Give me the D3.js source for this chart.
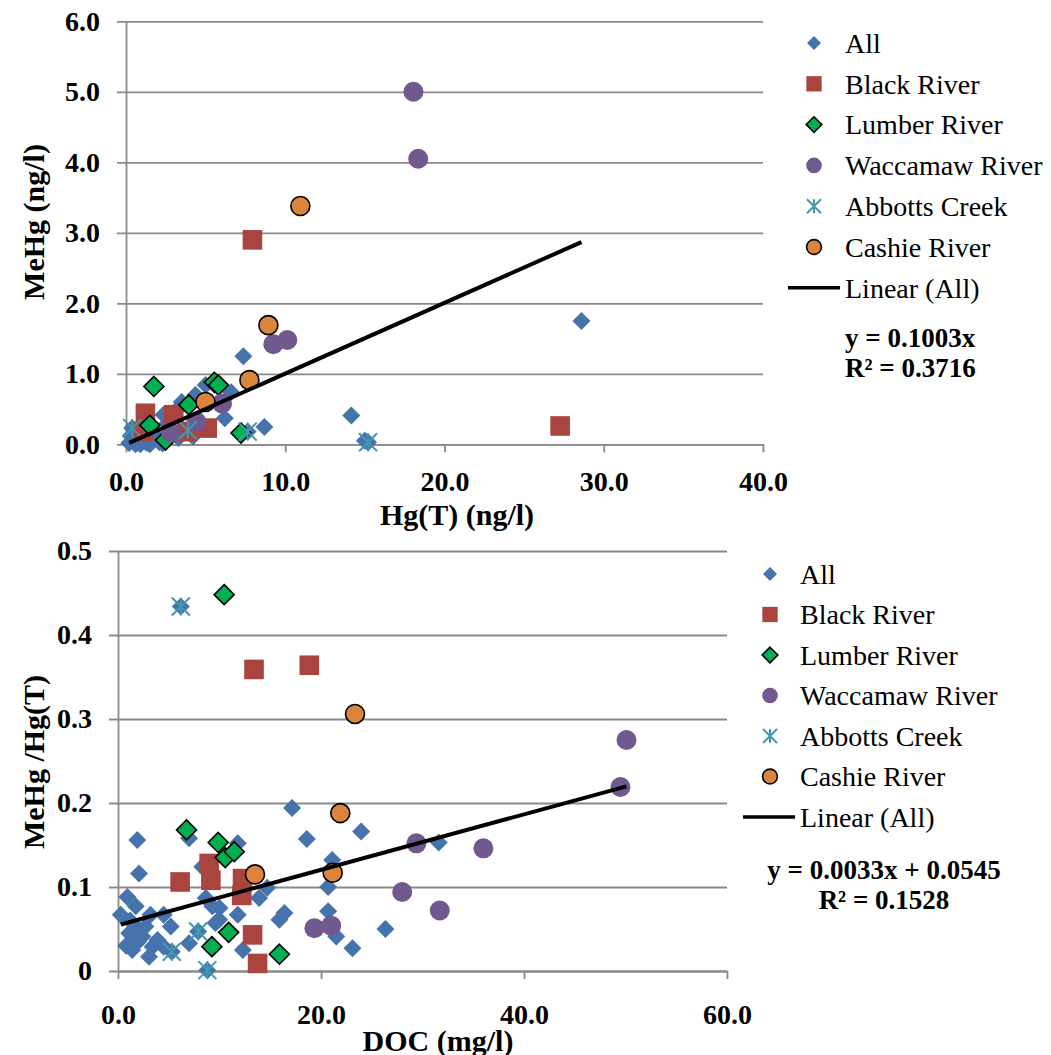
<!DOCTYPE html>
<html>
<head>
<meta charset="utf-8">
<script src="https://cdn.jsdelivr.net/npm/d3@7"></script>
<style>
  body { margin: 0; background: #fff; }
  svg, svg text { font-family: "Liberation Serif", "Times New Roman", serif; }
</style>
</head>
<body>
<div id="chart"></div>
<script>
// ---- data: [x, y] pairs ----
// top panel: Hg(T) (ng/l) vs MeHg (ng/l)
const otherHg = [[28.6,1.75],[14.15,0.41],[8.69,0.245],[7.37,1.25],[6.2,0.37],[4.36,0.7],[3.5,0.6],[3.2,0.49],
  [2.36,0.42],[4.2,0.11],[3.3,0.09],[6.6,0.74],[5.0,0.84],[15.0,0.05],[0.47,0.04],[0.2,0.02],[0.5,0.08],
  [0.8,0.03],[1.0,0.06],[1.3,0.02],[1.6,0.05],[2.0,0.08],[0.3,0.12],[1.8,0.15],[2.6,0.3],[1.2,0.1],
  [0.6,0.0],[2.8,0.12],[2.1,0.03],[0.9,0.0],[1.5,0.0],[2.3,0.01]]
const blackHg = [[7.94,2.9],[27.26,0.26],[1.22,0.44],[3.0,0.42],[5.1,0.23],[1.12,0.18],[3.84,0.18]]
const lumberHg = [[1.75,0.82],[5.55,0.88],[5.8,0.84],[3.94,0.56],[1.5,0.27],[2.48,0.06],[7.22,0.16]]
const waccamawHg = [[18.05,5.0],[18.35,4.05],[9.25,1.42],[10.13,1.48],[6.03,0.58],[4.42,0.32],[2.83,0.165]]
const abbottsHg = [[15.2,0.03],[7.64,0.18],[3.88,0.2],[0.39,0.23]]
const cashieHg = [[10.95,3.38],[8.94,1.69],[7.75,0.91],[4.99,0.6]]

// bottom panel: DOC (mg/l) vs MeHg/Hg(T)
const otherDOC = [[17.15,0.194],[1.9,0.156],[7.0,0.158],[2.07,0.116],[11.8,0.152],[8.3,0.124],[0.92,0.088],
  [1.75,0.077],[0.27,0.067],[3.2,0.067],[4.5,0.067],[5.2,0.053],[1.1,0.045],[2.4,0.041],[1.4,0.025],
  [3.06,0.017],[3.9,0.037],[2.7,0.053],[3.4,0.029],[1.75,0.053],[4.5,0.029],[8.65,0.087],[9.3,0.077],
  [9.97,0.061],[11.8,0.067],[13.9,0.087],[14.7,0.099],[16.4,0.069],[15.9,0.061],[7.0,0.033],[12.3,0.025],
  [9.6,0.057],[23.96,0.166],[18.6,0.157],[21.1,0.132],[20.7,0.1],[20.7,0.071],[21.5,0.041],[23.1,0.027],
  [31.6,0.153],[26.35,0.05],[10.0,0.075],[0.8,0.03],[2.0,0.035],[1.2,0.06]]
const blackDOC = [[13.4,0.359],[18.85,0.364],[8.98,0.128],[9.15,0.108],[6.12,0.106],[12.27,0.11],[12.2,0.09],[13.26,0.043],[13.75,0.009]]
const lumberDOC = [[10.46,0.448],[6.75,0.168],[9.87,0.153],[10.56,0.135],[11.45,0.142],[10.9,0.046],[9.25,0.029],[15.9,0.02]]
const waccamawDOC = [[50.1,0.275],[49.5,0.219],[29.4,0.152],[36.0,0.146],[28.0,0.094],[31.7,0.072],[19.35,0.051],[21.0,0.054]]
const abbottsDOC = [[6.19,0.434],[7.9,0.047],[5.3,0.023],[8.8,0.001]]
const cashieDOC = [[23.35,0.306],[21.9,0.188],[21.15,0.117],[13.5,0.115]]

const seriesNames = ["All", "Black River", "Lumber River", "Waccamaw River", "Abbotts Creek", "Cashie River"]
const hgTicks = [0, 10, 20, 30, 40]
const mehgTicks = [0, 1, 2, 3, 4, 5, 6]
const docTicks = [0, 20, 40, 60]
const ratioTicks = [0, 0.1, 0.2, 0.3, 0.4, 0.5]
const fitTop = { slope: 0.1003, intercept: 0, label: "y = 0.1003x", r2: "R² = 0.3716" }
const fitBottom = { slope: 0.0033, intercept: 0.0545, label: "y = 0.0033x + 0.0545", r2: "R² = 0.1528" }

const width = 1051, height = 1055
const serif = '"Liberation Serif", "Times New Roman", serif'

const svg = d3.select("#chart").append("svg")
  .attr("width", width).attr("height", height)
  .attr("viewBox", [0, 0, width, height])

const gridColor = "#8a8a8a"

// marker styles per series
const styles = [
  { shape: "diamond", fill: "#4673ab", stroke: "none", size: 9 },
  { shape: "square", fill: "#a9443f", stroke: "none", size: 9.8 },
  { shape: "diamond", fill: "#00b050", stroke: "#000", size: 10 },
  { shape: "circle", fill: "#71588f", stroke: "none", size: 10 },
  { shape: "star", fill: "none", stroke: "#4198af", size: 9 },
  { shape: "circle", fill: "#db843d", stroke: "#000", size: 9.5 }
]

const markerPath = (shape, s) => {
  if (shape === "diamond") return `M0,${-s}L${s},0L0,${s}L${-s},0Z`
  if (shape === "square") return `M${-s},${-s}H${s}V${s}H${-s}Z`
  if (shape === "star") return `M${-s},${-s}L${s},${s}M${-s},${s}L${s},${-s}M0,${-s}V${s}`
  return d3.arc()({ innerRadius: 0, outerRadius: s, startAngle: 0, endAngle: 2 * Math.PI })
}

const drawMarker = (g, st, scale) => g.append("path")
  .attr("d", markerPath(st.shape, st.size * scale))
  .attr("fill", st.fill)
  .attr("stroke", st.stroke)
  .attr("stroke-width", st.shape === "star" ? 2 : 1.6)

const txt = (sel, size, bold) => sel
  .style("font-family", serif)
  .style("font-size", size + "px")
  .style("font-weight", bold ? "bold" : "normal")
  .attr("fill", "#000")

const panel = cfg => {
  const x = d3.scaleLinear().domain(cfg.xDomain).range(cfg.xRange)
  const y = d3.scaleLinear().domain(cfg.yDomain).range(cfg.yRange)
  const left = cfg.xRange[0], right = cfg.xRange[1]
  const bottom = cfg.yRange[0]

  // horizontal gridlines (stick out past the axis as ticks)
  svg.append("g")
    .attr("transform", `translate(${left - 9},0)`)
    .call(d3.axisRight(y).tickValues(cfg.yTicks).tickSize(right - left + 9).tickFormat(""))
    .call(g => g.select(".domain").remove())
    .call(g => g.selectAll("line").attr("stroke", gridColor).attr("stroke-width", 1.8))

  // y axis with labels
  svg.append("g")
    .attr("transform", `translate(${left},0)`)
    .call(d3.axisLeft(y).tickValues(cfg.yTicks).tickSize(0).tickSizeOuter(0).tickPadding(26).tickFormat(cfg.yFormat))
    .call(g => g.select(".domain").attr("stroke", gridColor).attr("stroke-width", 1.8))
    .call(g => txt(g.selectAll("text"), 28, true))

  // x axis
  svg.append("g")
    .attr("transform", `translate(0,${bottom})`)
    .call(d3.axisBottom(x).tickValues(cfg.xTicks).tickSize(8).tickSizeOuter(0).tickFormat(d3.format(".1f")))
    .call(g => g.select(".domain").attr("stroke", gridColor).attr("stroke-width", 1.8))
    .call(g => g.selectAll("line").attr("stroke", gridColor).attr("stroke-width", 1.8))
    .call(g => txt(g.selectAll("text").attr("y", cfg.xLabelOffset).attr("dy", "0.35em"), 28, true))

  // axis titles
  txt(svg.append("text")
    .attr("x", cfg.xTitle[0]).attr("y", cfg.xTitle[1]).attr("dy", "0.35em")
    .attr("text-anchor", "middle")
    .text(cfg.xLabel), 30, true)
  txt(svg.append("text")
    .attr("transform", `translate(${cfg.yTitle[0]},${cfg.yTitle[1]}) rotate(-90)`)
    .attr("dy", "0.35em")
    .attr("text-anchor", "middle")
    .text(cfg.yLabel), 30, true)

  // points: "All" is every site, then each river on top
  const all = cfg.series.slice(1).reduce((acc, s) => acc.concat(s), cfg.series[0].slice())
  const layers = [all].concat(cfg.series.slice(1))
  layers.forEach((pts, i) => {
    const g = svg.append("g")
    pts.forEach(d => {
      const m = g.append("g").attr("transform", `translate(${x(d[0])},${y(d[1])})`)
      drawMarker(m, styles[i], 1)
    })
  })

  // linear fit of All
  const ext = d3.extent(all, d => d[0])
  const fit = cfg.fit
  svg.append("path")
    .datum(ext)
    .attr("fill", "none").attr("stroke", "#000").attr("stroke-width", 4)
    .attr("d", d3.line().x(d => x(d)).y(d => y(fit.slope * d + fit.intercept)))

  // legend
  const lg = svg.append("g")
  seriesNames.forEach((name, i) => {
    const yy = cfg.legend.y0 + i * cfg.legend.dy
    const m = lg.append("g").attr("transform", `translate(${cfg.legend.mx},${yy})`)
    drawMarker(m, styles[i], 0.78)
    txt(lg.append("text").attr("x", cfg.legend.tx).attr("y", yy).attr("dy", "0.35em").text(name), 28, false)
  })
  const ly = cfg.legend.y0 + 6 * cfg.legend.dy
  lg.append("line")
    .attr("x1", cfg.legend.lx[0]).attr("x2", cfg.legend.lx[1])
    .attr("y1", ly).attr("y2", ly)
    .attr("stroke", "#000").attr("stroke-width", 3.5)
  txt(lg.append("text").attr("x", cfg.legend.tx).attr("y", ly).attr("dy", "0.35em").text("Linear (All)"), 28, false)

  txt(lg.append("text").attr("x", cfg.eq.x).attr("y", cfg.eq.y[0]).attr("dy", "0.35em")
    .attr("text-anchor", cfg.eq.anchor).text(fit.label), 27, true)
  txt(lg.append("text").attr("x", cfg.eq.x).attr("y", cfg.eq.y[1]).attr("dy", "0.35em")
    .attr("text-anchor", cfg.eq.anchor).text(fit.r2), 27, true)
}

panel({
  xDomain: [0, 40], xRange: [126, 763],
  yDomain: [0, 6], yRange: [444.3, 21.3],
  xTicks: hgTicks, yTicks: mehgTicks,
  yFormat: d3.format(".1f"),
  xLabelOffset: 37,
  xLabel: "Hg(T) (ng/l)", xTitle: [457, 514],
  yLabel: "MeHg (ng/l)", yTitle: [33, 222],
  series: [otherHg, blackHg, lumberHg, waccamawHg, abbottsHg, cashieHg],
  fit: fitTop,
  legend: { mx: 814, tx: 845, y0: 43, dy: 40.8, lx: [788, 840] },
  eq: { x: 845, y: [338, 368], anchor: "start" }
})

panel({
  xDomain: [0, 60], xRange: [118, 727],
  yDomain: [0, 0.5], yRange: [971, 551],
  xTicks: docTicks, yTicks: ratioTicks,
  yFormat: d => d === 0 ? "0" : d3.format(".1f")(d),
  xLabelOffset: 43,
  xLabel: "DOC (mg/l)", xTitle: [438, 1040],
  yLabel: "MeHg /Hg(T)", yTitle: [33, 762],
  series: [otherDOC, blackDOC, lumberDOC, waccamawDOC, abbottsDOC, cashieDOC],
  fit: fitBottom,
  legend: { mx: 770, tx: 800, y0: 574, dy: 40.5, lx: [743, 795] },
  eq: { x: 884, y: [870, 900], anchor: "middle" }
})
</script>
</body>
</html>
